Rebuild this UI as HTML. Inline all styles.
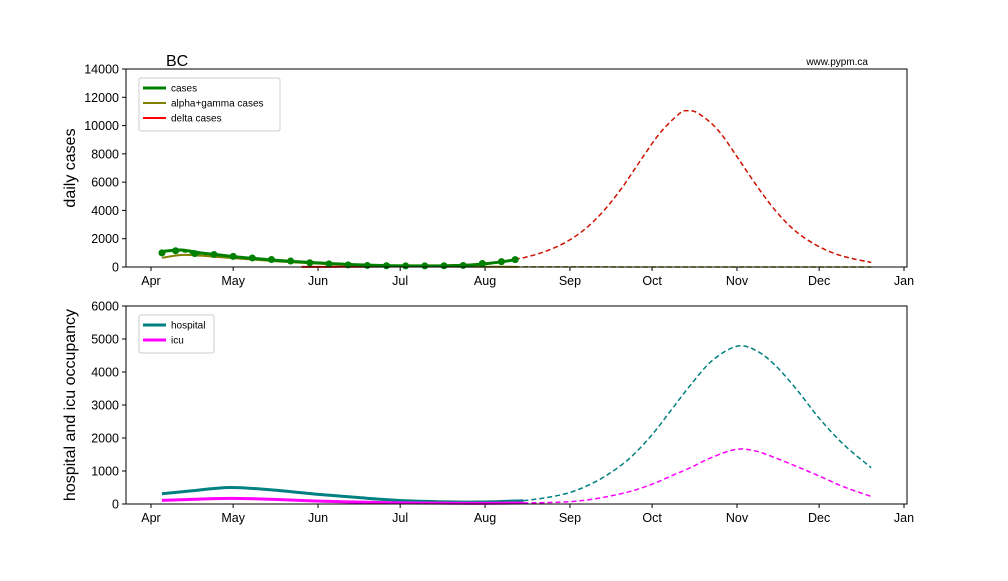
<!DOCTYPE html>
<html><head><meta charset="utf-8"><style>
body{margin:0;background:#fff}
svg text{font-family:"Liberation Sans","DejaVu Sans",sans-serif;fill:#000}
</style></head><body>
<svg id="c" width="1008" height="576" xmlns="http://www.w3.org/2000/svg"></svg>
<script>
// data (days since Apr 1)
const monthLabels=["Apr","May","Jun","Jul","Aug","Sep","Oct","Nov","Dec","Jan"];
const monthDays=[0,30,61,91,122,153,183,214,244,275];
const casesTicks=[0,2000,4000,6000,8000,10000,12000,14000];
const hospTicks=[0,1000,2000,3000,4000,5000,6000];
const fitDays=[4,11,18,25,32,39,46,53,60,67,74,81,88,95,102,109,116,123,130,134];
const casesFit=[1100,1200,1000,850,700,580,470,380,300,230,170,120,90,80,80,90,130,250,420,550];
const alphaFit=[650,850,800,700,600,500,400,320,250,180,130,90,70,50,40,30,25,20,15,12];
const deltaSolidDays=[55,62,69,76,83,90,97,104,111,118,125,130];
const deltaSolid=[5,10,15,20,30,40,60,90,130,190,300,420];
const projDays=[130,137,144,151,158,165,172,179,186,193,196,200,207,214,221,228,235,242,249,256,263];
const deltaProj=[450,700,1100,1700,2600,3900,5600,7600,9500,10850,11050,10850,9700,7800,5800,4000,2600,1650,1000,600,330];
const alphaProj=[12,10,8,7,6,5,4,4,3,3,3,3,2,2,2,2,1,1,1,1,1];
const weekDays=[4,9,16,23,30,37,44,51,58,65,72,79,86,93,100,107,114,121,128,133];
const weekCases=[1000,1150,950,880,750,640,530,420,300,220,150,110,90,80,80,90,110,250,380,520];
const hospDays=[4,15,29,45,60,75,90,105,120,136];
const hosp=[310,400,500,420,300,200,110,70,60,100];
const icu=[110,140,170,140,90,60,35,25,20,30];
const hospProjDays=[136,145,153,160,167,175,183,190,197,205,214,221,228,236,244,253,263];
const hospProj=[100,200,350,580,900,1400,2100,2850,3600,4350,4780,4650,4200,3450,2600,1800,1100];
const icuProj=[30,45,70,130,230,380,600,850,1100,1420,1660,1600,1400,1130,850,520,230];

const S=document.getElementById('c'),NS="http://www.w3.org/2000/svg";
function el(t,a,p){const e=document.createElementNS(NS,t);for(const k in a)e.setAttribute(k,a[k]);(p||S).appendChild(e);return e;}
const X0=126,X1=907;
const xd=d=>151+d*(904-151)/275;
function panel(top,bot,ymax,ticks,ylabel,name){
  const g=el('g',{});
  
  
  const y=v=>bot-v/ymax*(bot-top);
  ticks.forEach(t=>{el('line',{x1:X0-4,x2:X0,y1:y(t),y2:y(t),stroke:'#000'},g);
    const tx=el('text',{x:X0-7,y:y(t)+4.5,'text-anchor':'end','font-size':'12.5'},g);tx.textContent=t;
    });
  monthDays.forEach((d,i)=>{el('line',{x1:xd(d),x2:xd(d),y1:bot,y2:bot+4,stroke:'#000'},g);
    const tx=el('text',{x:xd(d),y:bot+18,'text-anchor':'middle','font-size':'12.5'},g);tx.textContent=monthLabels[i];
    });
  const yl=el('text',{transform:`translate(75,${(top+bot)/2}) rotate(-90)`,'text-anchor':'middle','font-size':'16'},g);yl.textContent=ylabel;
  
  return {g,y};
}
function smooth(pts){
  let d='M'+pts[0][0]+','+pts[0][1];
  for(let i=0;i<pts.length-1;i++){
    const p0=pts[i-1]||pts[i],p1=pts[i],p2=pts[i+1],p3=pts[i+2]||p2;
    const c1=[p1[0]+(p2[0]-p0[0])/6,p1[1]+(p2[1]-p0[1])/6];
    const c2=[p2[0]-(p3[0]-p1[0])/6,p2[1]-(p3[1]-p1[1])/6];
    d+=' C'+c1+' '+c2+' '+p2;
  }
  return d;
}
function line(g,days,vals,y,color,w,dash,name){
  const pts=days.map((d,i)=>[xd(d),y(vals[i])]);
  const p=el('path',{d:smooth(pts),fill:'none',stroke:color,'stroke-width':w,'stroke-dasharray':dash||'none','stroke-linejoin':'round'},g);
  
}
function frame(g,top,bot){el('rect',{x:X0,y:top,width:X1-X0,height:bot-top,fill:'none',stroke:'#000','stroke-width':1},g);}
function legend(g,x,y,w,items){
  const lg=el('g',{},g);
  el('rect',{x:x,y:y,width:w,height:items.length*15+8,rx:2,fill:'#fff',stroke:'#ccc'},lg);
  items.forEach((it,i)=>{const yy=y+10+i*15;
    el('line',{x1:x+4,x2:x+27,y1:yy,y2:yy,stroke:it[1],'stroke-width':it[2]},lg);
    const t=el('text',{x:x+32,y:yy+3.5,'font-size':'10'},lg);t.textContent=it[0];
    });
}
// top panel
const A=panel(69,267,14000,casesTicks,'daily cases','cases-panel');
line(A.g,fitDays,alphaFit,A.y,'#808000',2,null,'alpha-gamma-fit');
line(A.g,projDays,alphaProj,A.y,'#808000',1.5,'5,3','alpha-gamma-projection');
line(A.g,deltaSolidDays,deltaSolid,A.y,'#ff0000',2,null,'delta-fit');
line(A.g,projDays,deltaProj,A.y,'#cc1100',1.5,'5,3','delta-projection');
line(A.g,fitDays,casesFit,A.y,'#008000',3,null,'cases-fit');
line(A.g,weekDays,weekCases,A.y,'#008000',1.5,'4,3','cases-data');
weekDays.forEach((d,i)=>{const c=el('circle',{cx:xd(d),cy:A.y(weekCases[i]),r:3.5,fill:'#008000'},A.g);
  });
frame(A.g,69,267);
legend(A.g,139,78,141,[['cases','#008000',3],['alpha+gamma cases','#808000',2],['delta cases','#ff0000',2]]);
const t1=el('text',{x:166,y:66,'font-size':'16'});t1.textContent='BC';
const t2=el('text',{x:868,y:65,'font-size':'10','text-anchor':'end'});t2.textContent='www.pypm.ca';
// bottom panel
const B=panel(306,504,6000,hospTicks,'hospital and icu occupancy','hospital-panel');
line(B.g,hospDays,hosp,B.y,'#008080',3,null,'hospital-fit');
line(B.g,hospProjDays,hospProj,B.y,'#008080',1.5,'5,3','hospital-projection');
line(B.g,hospDays,icu,B.y,'#ff00ff',3,null,'icu-fit');
line(B.g,hospProjDays,icuProj,B.y,'#ff00ff',1.5,'5,3','icu-projection');
frame(B.g,306,504);
legend(B.g,139,315,75,[['hospital','#008080',3],['icu','#ff00ff',3]]);
</script>
</body></html>
